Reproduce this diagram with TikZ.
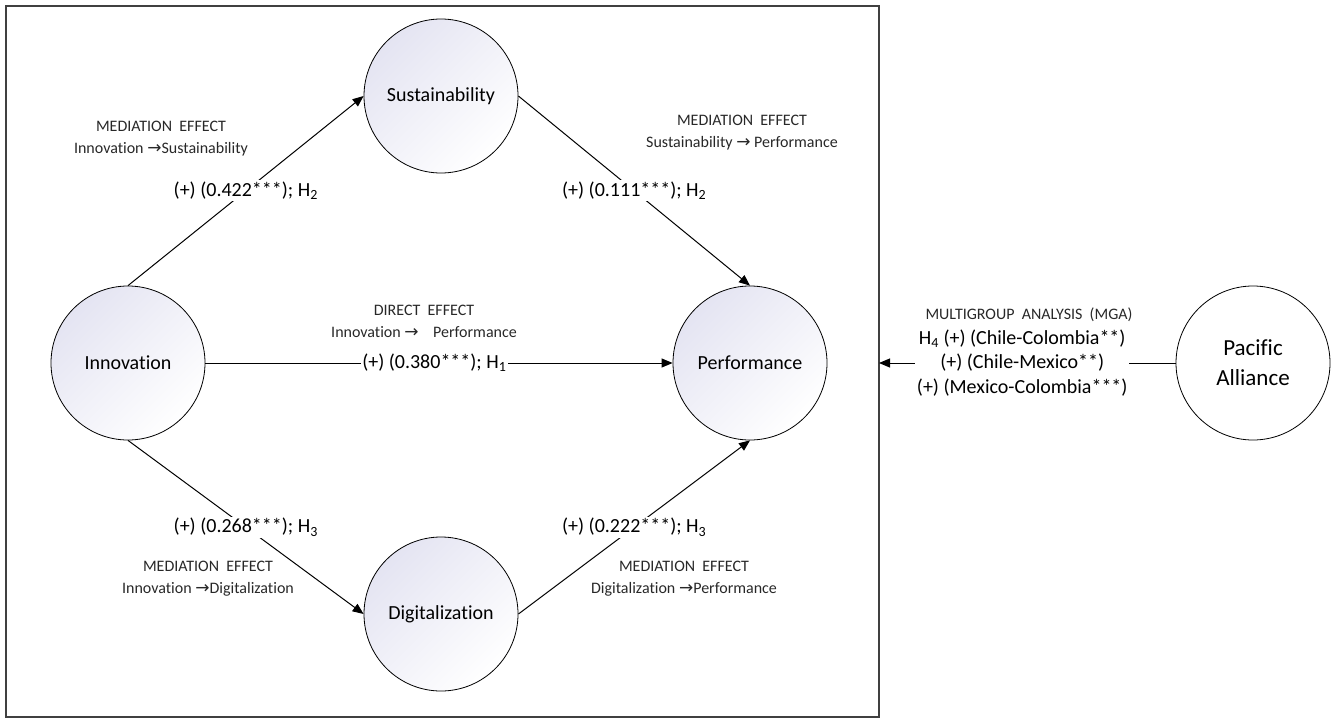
\documentclass[tikz,border=0pt]{standalone}
\usepackage{fontspec}
\setmainfont{Carlito}[Ligatures=CommonOff]
\newfontfamily\arrowfont{DejaVu Sans}
\usetikzlibrary{arrows.meta}
\definecolor{lav}{RGB}{228,228,242}
\definecolor{framecol}{RGB}{64,64,64}
\definecolor{capcol}{RGB}{40,40,40}
\newcommand{\myarr}{{\arrowfont\fontsize{17}{17}\selectfont →}}
\begin{document}
\begin{tikzpicture}[x=1pt,y=-1pt,
  circ/.style={circle, draw=black, line width=0.8pt, minimum size=154pt, inner sep=0pt, align=center},
  latent/.style={circ, shading=axis, top color=lav, bottom color=white, shading angle=45, font=\fontsize{20}{24}\selectfont},
  link/.style={-{Triangle[length=11pt,width=9pt]}, line width=1pt},
  coef/.style={fill=white, inner sep=1.5pt, align=center, font=\fontsize{20}{24.5}\selectfont},
  captext/.style={align=center, text=capcol, font=\fontsize{16}{22}\selectfont}]
\useasboundingbox (0,0) rectangle (1335,720);
\draw[framecol, line width=2pt] (6,6) rectangle (879,717);
\coordinate (frE) at (879,363);

\node[latent] (inn) at (128,363) {Innovation};
\node[latent] (sus) at (441,96) {Sustainability};
\node[latent] (perf) at (750,363) {Performance};
\node[latent] (dig) at (441,614) {Digitalization};
\node[circ, fill=white, font=\fontsize{23}{30}\selectfont] (pa) at (1253,363) {Pacific\\Alliance};

\draw[link] (inn.north) -- node[coef]{(+) (0.422***); H\textsubscript{2}} (sus.west);
\draw[link] (sus.east) -- node[coef]{(+) (0.111***); H\textsubscript{2}} (perf.north);
\draw[link] (inn.south) -- node[coef]{(+) (0.268***); H\textsubscript{3}} (dig.west);
\draw[link] (dig.east) -- node[coef]{(+) (0.222***); H\textsubscript{3}} (perf.south);
\draw[link] (inn.east) -- node[coef, pos=0.49]{(+) (0.380***); H\textsubscript{1}} (perf.west);
\draw[link] (pa.west) -- node[coef, pos=0.517]{H\textsubscript{4} (+) (Chile-Colombia**)\\(+) (Chile-Mexico**)\\(+) (Mexico-Colombia***)} (frE);

\node[captext] (c1) at (161,139) {MEDIATION~~EFFECT\\Innovation \myarr Sustainability};
\node[captext] (c2) at (742,132.5) {MEDIATION~~EFFECT\\Sustainability \myarr\ Performance};
\node[captext] (c3) at (424,321) {DIRECT~~EFFECT\\Innovation \myarr\ \ \ \ Performance};
\node[captext] (c4) at (208,579) {MEDIATION~~EFFECT\\Innovation \myarr Digitalization};
\node[captext] (c5) at (684,579) {MEDIATION~~EFFECT\\Digitalization \myarr Performance};
\node[captext] (c6) at (1029,315) {MULTIGROUP~~ANALYSIS~~(MGA)};
\end{tikzpicture}
\end{document}
